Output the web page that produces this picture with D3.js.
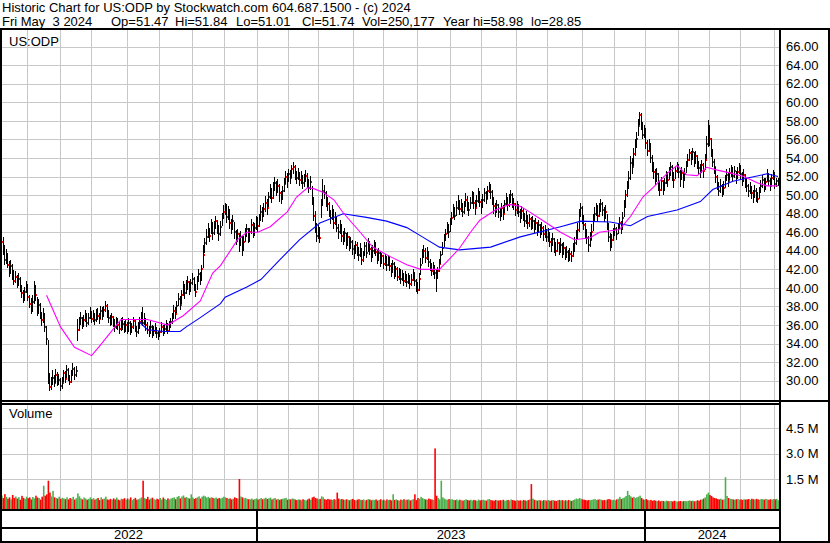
<!DOCTYPE html>
<html><head><meta charset="utf-8">
<script src="https://cdn.jsdelivr.net/npm/d3@7"></script>
<style>
html,body{margin:0;padding:0;background:#fff;}
svg{display:block;font-family:"Liberation Sans",Arial,sans-serif;}
</style></head><body>
<svg id="c" width="830" height="543"></svg>
<script>
const titleText = "Historic Chart for US:ODP by Stockwatch.com 604.687.1500 - (c) 2024";
const infoFields = ["Fri May  3 2024", "Op=51.47", "Hi=51.84", "Lo=51.01", "Cl=51.74", "Vol=250,177", "Year hi=58.98", "lo=28.85"];
const symbolText = "US:ODP";
const volumeText = "Volume";
const firstDay = "2022-05-06", lastDay = "2024-05-03";
const holidays = ["2022-05-30","2022-06-20","2022-07-04","2022-09-05","2022-11-24","2022-12-26",
 "2023-01-02","2023-01-16","2023-02-20","2023-04-07","2023-05-29","2023-06-19","2023-07-04","2023-09-04","2023-11-23","2023-12-25",
 "2024-01-01","2024-01-15","2024-02-19","2024-03-29"];
const priceTicks = [30,32,34,36,38,40,42,44,46,48,50,52,54,56,58,60,62,64,66];
const volumeTicks = [1.5,3.0,4.5];

const closes = [
45.0,44.2,43.0,43.6,42.5,41.8,42.4,41.5,40.8,41.2,
40.5,41.0,40.0,39.5,38.8,39.6,40.2,39.0,38.3,37.8,
38.5,40.0,39.2,37.5,38.2,37.0,36.5,37.2,35.8,34.5,
30.5,29.3,29.6,30.3,29.8,30.6,29.9,30.1,29.4,29.7,
30.8,30.2,31.2,30.5,29.9,30.8,31.3,30.6,31.0,35.5,
36.3,36.8,36.0,36.5,37.0,36.2,36.8,37.4,36.6,37.0,
36.5,37.2,37.0,36.6,37.5,37.0,37.6,38.0,37.2,36.8,
36.4,36.9,36.2,35.8,36.5,36.0,35.6,36.3,36.1,35.7,
36.0,35.5,36.2,35.3,35.8,36.4,35.6,35.2,35.9,36.3,
36.8,36.2,36.5,36.0,35.5,35.2,35.8,35.0,35.4,35.6,
35.1,34.8,35.3,35.8,35.2,35.6,36.0,35.4,35.9,36.3,
36.8,37.5,37.2,38.0,38.8,38.2,39.2,40.0,39.4,40.2,
40.6,39.8,40.5,41.0,40.2,39.6,40.8,41.5,40.9,42.0,
43.5,44.8,45.5,46.2,45.6,46.8,45.9,46.5,47.2,46.4,
45.8,46.6,47.5,48.2,48.8,47.6,48.3,47.0,46.5,47.2,
46.0,45.2,45.8,44.6,45.5,44.2,45.0,45.9,46.3,45.4,
46.0,46.8,45.9,46.5,47.2,46.7,47.5,48.2,47.8,48.5,
49.2,48.6,49.8,50.5,49.7,50.8,51.3,50.6,51.0,50.2,
49.6,50.4,51.2,52.0,51.5,52.3,51.8,52.8,53.0,52.2,
51.9,52.4,51.6,52.0,51.3,51.7,52.1,51.5,50.8,51.4,
49.5,47.8,46.5,45.6,46.2,45.4,49.0,50.5,50.2,49.4,
49.0,48.2,47.5,48.3,47.0,47.6,46.5,46.0,46.8,45.6,
45.2,45.9,44.8,45.5,44.6,45.0,44.2,43.8,44.6,44.0,
43.5,44.2,43.0,43.6,44.5,43.8,44.9,44.2,43.5,44.0,
44.6,43.9,43.2,43.8,42.9,43.4,42.6,43.1,42.5,43.2,
42.4,41.8,42.6,41.5,42.0,41.2,41.8,41.0,41.5,40.8,
41.3,40.6,41.2,40.4,40.9,41.5,40.8,40.2,39.8,41.0,
42.5,43.6,44.0,43.2,43.8,42.8,42.4,41.8,42.2,41.6,
41.2,41.8,42.6,43.5,44.3,45.2,45.8,46.5,46.0,46.9,
47.5,48.3,47.8,48.6,49.2,48.5,49.0,48.2,48.8,49.5,
49.0,48.4,49.2,49.8,49.1,48.6,49.4,50.0,49.3,48.7,
49.5,50.2,49.6,50.4,51.0,50.3,49.5,48.8,48.3,48.9,
48.2,47.8,48.6,48.0,49.0,49.6,48.9,49.5,50.0,49.3,
49.0,48.4,48.9,48.2,47.6,48.3,47.9,47.2,47.8,47.0,
47.4,46.8,47.2,46.5,47.0,46.2,46.8,46.0,46.5,45.8,
46.2,45.5,45.9,45.0,44.6,45.3,44.5,44.0,44.8,44.2,
44.6,43.8,44.3,43.5,43.9,43.2,43.7,43.4,44.2,44.8,
45.5,46.2,47.8,48.6,47.5,46.8,46.0,45.4,44.6,45.2,
46.0,47.2,48.0,48.6,47.8,48.5,49.0,48.4,47.9,48.2,
46.8,45.5,44.6,45.2,45.9,46.3,45.8,46.5,47.0,46.4,
47.5,48.8,50.0,51.0,51.8,53.5,53.0,54.4,55.2,56.0,
57.5,58.6,57.8,56.5,57.0,55.6,54.8,55.5,54.0,53.2,
52.5,51.8,52.3,51.2,50.6,51.5,50.8,51.3,52.0,51.6,
52.4,53.0,52.2,51.6,52.6,53.2,52.5,51.8,52.4,51.6,
52.3,53.1,53.8,54.5,53.9,54.6,53.7,54.2,53.5,52.9,
52.5,53.2,52.6,53.8,55.5,57.2,56.0,54.8,53.6,53.0,
52.0,51.2,50.5,51.0,50.3,50.8,51.6,52.2,51.5,52.4,
52.8,52.1,52.6,51.8,52.5,53.0,52.3,51.7,52.2,51.5,
51.0,50.4,50.9,50.2,49.8,50.5,50.0,49.6,50.3,51.0,
51.6,50.8,51.4,52.2,51.5,51.0,51.8,52.3,51.2,51.5,51.74];

const highs = [
46.6,45.5,44.6,44.2,43.8,42.9,43.0,42.6,41.9,41.8,
41.4,41.6,41.2,40.3,39.8,40.1,40.8,40.4,39.2,38.9,
39.2,40.7,40.3,39.0,38.8,38.4,37.4,37.8,37.3,35.9,
34.4,30.8,30.4,31.2,30.6,31.3,30.9,30.7,30.3,30.4,
31.2,31.0,31.7,31.4,30.6,31.1,31.9,31.5,31.6,36.6,
36.9,37.4,36.9,37.1,37.6,37.3,37.3,37.9,37.5,37.6,
37.3,37.7,37.8,37.3,38.0,37.9,38.1,38.6,38.3,37.6,
37.1,37.3,37.0,36.6,36.9,36.8,36.4,36.8,36.9,36.4,
36.5,36.3,36.8,36.4,36.2,36.9,36.7,35.9,36.3,36.9,
37.4,37.9,37.3,36.8,36.3,35.9,36.4,36.0,35.9,36.2,
35.8,35.4,35.7,36.3,36.0,36.1,36.5,36.2,36.4,36.8,
37.3,38.2,37.9,38.6,39.5,39.1,39.8,40.8,40.4,40.9,
41.3,40.8,41.0,41.6,41.2,40.4,41.3,42.0,41.7,42.5,
44.6,45.4,46.3,47.0,46.5,47.4,47.1,47.2,47.7,47.3,
46.8,47.2,48.1,48.9,49.2,49.0,48.8,48.5,47.4,47.9,
47.1,46.2,46.4,45.9,46.1,45.6,45.6,46.5,46.9,46.5,
46.5,47.4,47.1,47.0,47.8,47.6,48.0,48.9,48.7,49.1,
49.9,49.6,50.3,51.2,50.8,51.4,52.0,51.5,51.7,51.2,
50.5,51.0,51.9,52.6,52.4,52.8,52.7,53.3,53.6,53.2,
52.6,52.9,52.5,52.6,52.2,52.3,52.7,52.4,51.7,52.1,
51.0,49.8,48.3,47.0,46.8,46.6,49.6,51.7,51.1,50.5,
49.8,49.3,48.4,48.9,48.5,48.2,47.6,46.9,47.3,46.9,
46.1,46.5,45.9,46.0,45.6,45.5,45.2,44.6,45.1,44.9,
44.4,44.8,44.3,44.0,45.0,44.9,45.4,45.1,44.4,44.6,
45.2,44.9,44.1,44.3,43.9,43.8,43.6,43.7,43.4,43.6,
43.4,42.7,43.0,42.8,42.4,42.3,42.2,42.0,41.9,41.6,
41.8,41.5,41.6,41.4,41.5,42.0,41.7,41.0,40.6,41.6,
43.2,44.2,44.6,44.3,44.4,44.0,43.1,42.7,42.8,42.5,
42.0,42.3,43.1,44.0,44.9,45.8,46.4,47.1,46.9,47.5,
48.2,49.0,48.7,49.4,50.0,49.5,49.6,49.1,49.4,50.2,
49.9,49.3,49.8,50.5,50.3,49.5,50.0,50.8,50.4,49.6,
50.1,50.8,50.5,51.0,51.4,51.2,50.6,49.8,49.1,49.5,
49.0,48.6,49.2,48.9,49.5,50.2,49.8,50.1,50.6,50.2,
49.7,49.2,49.4,49.0,48.5,48.8,48.6,48.1,48.3,47.9,
48.0,47.6,47.8,47.3,47.5,47.1,47.3,46.9,47.1,46.7,
46.8,46.4,46.5,46.0,45.4,45.9,45.4,44.9,45.3,45.0,
45.4,44.8,45.0,44.4,44.5,44.1,44.3,44.0,44.8,45.5,
46.2,47.0,48.5,49.2,48.8,47.9,47.0,46.3,45.6,46.0,
46.9,48.0,48.7,49.2,48.9,49.1,49.6,49.3,48.7,48.9,
48.0,47.0,45.9,45.8,46.5,46.9,46.6,47.0,47.6,47.2,
48.2,49.5,50.6,51.5,52.6,54.2,54.0,55.1,56.0,56.8,
58.2,58.98,58.9,57.9,57.6,57.2,55.9,56.1,55.6,54.3,
53.6,52.8,52.9,52.4,51.5,52.0,51.6,51.9,52.6,52.5,
53.0,53.6,53.2,52.5,53.0,53.6,53.4,52.7,53.0,52.5,
52.9,53.7,54.4,55.0,54.8,55.1,54.7,54.8,54.3,53.7,
53.4,53.8,53.5,54.4,56.4,58.1,57.6,56.2,55.0,53.9,
53.0,52.2,51.4,51.7,51.2,51.5,52.2,52.8,52.4,52.9,
53.3,53.0,53.1,52.6,53.0,53.5,53.2,52.5,52.8,52.3,
51.8,51.2,51.4,51.0,50.6,51.1,50.8,50.3,50.9,51.6,
52.2,51.8,51.9,52.8,52.4,51.8,52.3,52.7,52.5,51.9,51.84];

const lows = [
44.2,43.6,42.5,42.6,42.1,41.2,41.5,40.9,40.3,40.5,
40.0,40.2,39.6,38.9,38.4,38.6,39.4,38.6,37.8,37.2,
37.4,38.3,38.6,37.0,37.2,36.6,35.9,36.2,35.2,33.8,
29.6,28.85,29.0,29.5,29.3,29.7,29.4,29.5,28.9,29.1,
29.9,29.8,30.3,30.0,29.5,29.8,30.5,30.1,30.4,34.3,
35.4,36.0,35.6,35.8,36.3,35.8,36.0,36.7,36.2,36.3,
36.0,36.3,36.5,36.1,36.6,36.5,36.9,37.4,36.8,36.2,
35.9,36.0,35.8,35.2,35.6,35.5,35.0,35.4,35.5,35.1,
35.3,35.0,35.3,34.9,35.1,35.6,35.2,34.7,35.0,35.6,
36.1,35.9,36.0,35.4,35.0,34.7,35.0,34.6,34.8,35.0,
34.6,34.4,34.7,35.1,34.8,35.0,35.4,35.0,35.2,35.7,
36.1,36.7,36.6,37.3,38.0,37.6,38.3,39.1,38.8,39.3,
39.8,39.2,39.6,40.3,39.7,39.0,39.8,40.6,40.3,40.8,
42.2,43.8,44.6,45.4,44.9,45.8,45.2,45.7,46.3,45.8,
45.1,45.6,46.7,47.4,47.9,47.0,47.3,46.3,45.8,46.2,
45.3,44.6,44.9,43.9,44.5,43.4,44.0,44.9,45.5,44.8,
45.0,45.8,45.4,45.6,46.2,46.0,46.6,47.2,47.1,47.6,
48.2,47.9,48.7,49.6,49.2,49.6,50.5,49.9,50.2,49.3,
49.0,49.5,50.3,51.2,50.8,51.4,51.2,51.9,52.3,51.6,
51.2,51.6,51.0,51.2,50.7,50.9,51.4,50.8,50.2,50.6,
48.9,47.2,45.9,45.0,45.3,44.8,47.5,48.8,49.6,48.7,
48.3,47.6,46.9,47.3,46.4,46.8,46.0,45.3,45.8,44.9,
44.6,45.0,44.2,44.5,44.0,44.2,43.6,43.1,43.7,43.4,
42.9,43.3,42.5,42.8,43.4,43.2,43.9,43.6,42.8,43.2,
43.7,43.4,42.6,42.9,42.3,42.6,42.0,42.4,41.8,42.4,
41.8,41.2,41.6,41.0,41.2,40.7,40.9,40.4,40.7,40.2,
40.5,40.1,40.4,39.9,40.2,40.8,40.2,39.6,39.3,39.7,
41.4,42.6,43.2,42.7,43.0,42.3,41.8,41.3,41.4,41.0,
39.6,41.0,41.7,42.6,43.6,44.4,45.1,45.8,45.4,46.0,
46.8,47.5,47.3,47.8,48.4,47.9,48.2,47.6,48.0,48.7,
48.3,47.7,48.5,49.0,48.5,47.9,48.7,49.2,48.7,48.0,
48.6,49.3,49.0,49.6,50.2,49.6,48.9,48.0,47.6,48.1,
47.5,47.2,47.6,47.3,48.1,48.8,48.3,48.7,49.2,48.6,
48.4,47.8,48.0,47.6,47.0,47.4,47.2,46.6,46.9,46.4,
46.6,46.2,46.4,45.9,46.2,45.6,45.9,45.4,45.7,45.1,
45.4,44.9,45.0,44.4,43.9,44.5,43.8,43.4,43.9,43.6,
43.8,43.2,43.5,43.0,43.2,42.8,42.9,42.8,43.3,43.9,
44.6,45.3,46.0,47.6,46.9,46.2,45.3,44.7,43.9,44.4,
45.2,46.1,47.1,47.8,47.1,47.6,48.2,47.7,47.1,47.4,
46.2,44.9,44.0,44.3,45.1,45.6,45.2,45.8,46.3,45.8,
46.2,47.6,48.6,49.8,50.7,51.6,52.3,53.1,54.2,55.1,
56.4,57.6,57.0,56.0,56.2,55.0,54.2,54.6,53.5,52.5,
51.7,51.1,51.4,50.5,49.9,50.5,50.0,50.5,51.2,50.9,
51.6,52.1,51.5,50.8,51.7,52.4,51.8,50.9,51.6,50.8,
51.5,52.4,53.0,53.7,53.2,53.8,53.0,53.4,52.8,52.2,
51.9,52.4,51.9,52.7,53.9,55.2,55.3,54.1,53.0,52.3,
51.3,50.6,49.9,50.2,49.8,50.0,50.8,51.5,50.9,51.6,
52.0,51.5,51.9,51.2,51.7,52.3,51.6,51.0,51.4,50.8,
50.3,49.8,50.1,49.6,49.2,49.7,49.3,49.1,49.6,50.2,
50.8,50.3,50.6,51.4,51.0,50.4,51.1,51.6,50.7,50.9,51.01];

// daily volume, thousands of shares
const volumes = [
520,380,610,450,340,420,300,560,390,470,
350,430,280,510,390,330,460,370,420,300,
440,360,520,410,380,290,460,1100,520,600,
1400,700,480,800,420,380,350,460,330,390,
360,310,420,300,380,340,450,290,370,650,
480,360,300,410,350,280,330,420,310,370,
290,340,380,260,420,310,350,460,300,280,
330,270,360,300,410,290,250,340,310,370,
280,350,300,420,260,330,390,280,310,360,
420,1400,380,320,450,290,350,400,310,280,
340,300,380,290,410,330,270,360,300,350,
390,420,310,450,500,360,470,530,400,440,
380,350,600,410,330,370,420,480,350,460,
520,480,410,450,370,430,390,360,410,340,
380,350,400,460,420,380,330,360,300,340,
420,380,350,1500,470,420,360,390,330,310,
300,350,280,320,360,290,330,380,310,350,
400,320,360,410,300,350,380,290,330,270,
310,340,360,390,280,320,300,350,340,290,
260,300,280,250,310,270,240,300,350,280,
420,460,380,350,300,330,480,420,310,280,
330,300,290,260,310,280,700,350,300,320,
290,260,310,280,250,300,330,270,240,290,
310,280,260,300,240,270,320,290,250,280,
260,300,230,270,310,250,280,220,300,260,
280,240,600,270,300,250,230,290,260,310,
250,280,300,240,270,320,600,260,380,330,
450,380,320,300,280,350,310,290,270,3300,
520,380,300,1400,420,350,300,280,320,290,
310,270,260,300,240,280,250,230,270,300,
260,240,280,230,270,250,220,290,240,260,
280,250,230,300,320,260,240,220,270,250,
230,260,240,280,220,250,270,230,300,260,
240,220,260,230,250,210,270,240,220,260,
300,1200,350,280,250,230,270,240,220,260,
250,230,270,220,240,260,230,210,250,270,
240,260,220,250,230,270,240,210,260,300,
350,320,380,340,300,280,260,240,270,250,
280,300,320,260,290,310,280,250,270,240,
300,320,290,260,280,250,300,340,450,320,
380,420,500,800,560,480,400,450,380,420,
460,520,380,300,280,320,260,240,270,220,
250,230,200,240,190,220,210,180,230,200,
190,210,180,220,200,170,190,210,180,200,
210,190,220,240,200,230,190,210,250,220,
280,300,350,420,600,700,560,500,420,380,
360,320,300,340,280,300,1600,500,380,340,
320,300,280,310,330,290,300,270,310,290,
300,320,280,340,310,290,330,300,280,320,
310,290,330,300,280,310,290,320,300,330,250];

// moving averages: [trading-day index, value]
const maShort = [[29,39.2],[38,35.8],[47,33.6],[58,32.7],[63,33.7],[74,36.0],[77,36.6],[94,36.6],[107,36.0],[117,37.0],
 [128,38.6],[136,41.6],[141,42.4],[152,45.2],[158,46.0],[165,46.0],[173,46.6],[184,48.2],[190,49.8],[197,50.8],
 [201,50.7],[207,50.3],[214,49.5],[220,48.1],[231,46.0],[239,44.4],[250,43.4],[261,42.5],[270,42.0],[282,42.0],
 [289,43.2],[295,44.3],[302,46.0],[308,47.3],[318,48.4],[327,49.0],[334,48.8],[340,48.2],[350,47.1],[360,46.0],
 [369,45.2],[379,45.4],[385,46.0],[398,46.3],[405,47.7],[413,49.8],[420,50.9],[429,52.4],[435,53.2],[441,52.2],
 [448,52.1],[454,53.0],[461,52.7],[469,52.4],[478,52.0],[487,51.3],[493,51.0],[500,51.0]];
const maLong = [[89,36.3],[94,35.5],[105,35.3],[115,35.3],[119,35.8],[128,36.8],[141,38.3],[144,39.0],[158,40.1],
 [167,40.9],[179,43.0],[192,45.2],[205,47.0],[220,48.0],[235,47.6],[248,47.2],[261,46.5],[271,45.5],[282,44.4],
 [295,44.1],[315,44.4],[334,45.5],[360,46.6],[373,47.2],[392,47.1],[405,46.7],[416,47.7],[435,48.4],[450,49.3],
 [458,50.6],[471,51.5],[482,51.9],[493,52.3],[500,52.0]];

// ---------- layout ----------
const W = 830, H = 543;
const plotL = 2, plotR = 779;
const priceTop = 30, priceBot = 400;
const volTop = 404.5, volBot = 509;
const infoX = [2, 111, 175, 236, 302, 362, 443, 531];
const svg = d3.select("#c");
const nb = s => s.replace(/ /g, "\u00A0");

const parse = d3.utcParse("%Y-%m-%d"), fmt = d3.utcFormat("%Y-%m-%d");
const hol = new Set(holidays);
const days = [];
for (let d = parse(firstDay); d <= parse(lastDay); d = d3.utcDay.offset(d, 1)) {
  const wd = d.getUTCDay();
  if (wd === 0 || wd === 6 || hol.has(fmt(d))) continue;
  days.push(d);
}
const N = Math.min(days.length, closes.length);
const x = d3.scaleLinear().domain([0, N - 1]).range([1.5, 778]);
const step = x(1) - x(0);
const yP = d3.scaleLinear().domain([30, 66]).range([380.7, 46.7]);
const yV = d3.scaleLinear().domain([0, 6]).range([504.5, 402.5]);

const monthStarts = [], yearStarts = [];
for (let i = 1; i < N; i++) {
  if (days[i].getUTCMonth() !== days[i - 1].getUTCMonth()) monthStarts.push(i);
  if (days[i].getUTCFullYear() !== days[i - 1].getUTCFullYear()) yearStarts.push(i);
}
const gx = i => Math.round(x(i) - step / 2) + 0.5;

svg.append("rect").attr("width", W).attr("height", H).attr("fill", "#fff");

const defs = svg.append("defs");
defs.append("clipPath").attr("id", "cp").append("rect").attr("x", plotL).attr("y", priceTop).attr("width", plotR - plotL).attr("height", priceBot - priceTop);
defs.append("clipPath").attr("id", "cv").append("rect").attr("x", plotL).attr("y", volTop).attr("width", plotR - plotL).attr("height", volBot - volTop);

// grids
const grid = svg.append("g").attr("stroke", "#c8c8c8").attr("stroke-width", 1).attr("shape-rendering", "crispEdges");
grid.selectAll(".hp").data(priceTicks).join("line")
  .attr("x1", plotL).attr("x2", plotR).attr("y1", d => Math.round(yP(d)) + 0.5).attr("y2", d => Math.round(yP(d)) + 0.5);
grid.selectAll(".hv").data(volumeTicks).join("line").attr("class", "hv")
  .attr("x1", plotL).attr("x2", plotR).attr("y1", d => Math.round(yV(d)) + 0.5).attr("y2", d => Math.round(yV(d)) + 0.5);
grid.selectAll(".vp").data(monthStarts).join("line").attr("class", "vp")
  .attr("x1", gx).attr("x2", gx).attr("y1", priceTop).attr("y2", priceBot);
grid.selectAll(".vv").data(monthStarts).join("line").attr("class", "vv")
  .attr("x1", gx).attr("x2", gx).attr("y1", volTop).attr("y2", volBot);

// labels
svg.append("text").attr("x", 2).attr("y", 12).attr("font-size", 13).text(titleText);
svg.append("g").attr("font-size", 13).selectAll("text").data(infoFields).join("text")
  .attr("x", (d, k) => infoX[k]).attr("y", 26).text(d => nb(d));
svg.append("text").attr("x", 9).attr("y", 46).attr("font-size", 13).text(symbolText);
svg.append("text").attr("x", 9).attr("y", 418).attr("font-size", 13).text(volumeText);

// price bars: close ticks first, then the high-low bars over them
const idx = d3.range(N);
const pg = svg.append("g").attr("clip-path", "url(#cp)").attr("shape-rendering", "crispEdges");
pg.append("g").selectAll("rect").data(idx).join("rect")
  .attr("x", i => Math.floor(x(i))).attr("y", i => Math.round(yP(closes[i])) - 1)
  .attr("width", 2).attr("height", 2).attr("fill", "#ff0000");
pg.append("g").selectAll("rect").data(idx).join("rect")
  .attr("x", i => Math.floor(x(i))).attr("y", i => Math.round(yP(highs[i])))
  .attr("width", 1).attr("height", i => Math.max(1, Math.round(yP(lows[i])) - Math.round(yP(highs[i]))))
  .attr("fill", "#000");

// moving averages
const line = d3.line().x(d => x(d[0])).y(d => yP(d[1]));
const mg = svg.append("g").attr("clip-path", "url(#cp)").attr("fill", "none").attr("stroke-width", 1.1);
mg.append("path").datum(maLong).attr("d", line).attr("stroke", "#0000ff");
mg.append("path").datum(maShort).attr("d", line).attr("stroke", "#ff00ff");

// volume bars (drawn up from the panel floor)
const vg = svg.append("g").attr("clip-path", "url(#cv)");
vg.selectAll("rect").data(idx).join("rect")
  .attr("x", i => x(i) - 0.5).attr("width", 1.6)
  .attr("y", i => yV(volumes[i] / 1000)).attr("height", i => volBot - yV(volumes[i] / 1000))
  .attr("fill", i => (i > 0 && closes[i] < closes[i - 1]) ? "#ff0000" : "#4cb04c");

// frame
const fr = svg.append("g").attr("fill", "#000").attr("shape-rendering", "crispEdges");
fr.append("rect").attr("x", 0).attr("y", 28).attr("width", W).attr("height", 2);
fr.append("rect").attr("x", 0).attr("y", 28).attr("width", 2).attr("height", H - 28);
fr.append("rect").attr("x", plotR).attr("y", 28).attr("width", 2).attr("height", H - 28);
fr.append("rect").attr("x", W - 2).attr("y", 28).attr("width", 2).attr("height", H - 28);
fr.append("rect").attr("x", 0).attr("y", priceBot).attr("width", W).attr("height", 2);
fr.append("rect").attr("x", 0).attr("y", 403).attr("width", plotR).attr("height", 1.5);
fr.append("rect").attr("x", 0).attr("y", volBot).attr("width", plotR + 2).attr("height", 2);
fr.append("rect").attr("x", 0).attr("y", 527).attr("width", plotR + 2).attr("height", 2);
fr.append("rect").attr("x", 0).attr("y", H - 2).attr("width", W).attr("height", 2);
fr.selectAll(".ys").data(yearStarts).join("rect").attr("class", "ys")
  .attr("x", i => Math.round(x(i) - step / 2) - 1).attr("y", volBot).attr("width", 2).attr("height", H - volBot);

// axis labels
svg.append("g").attr("font-size", 13).selectAll("text").data(priceTicks).join("text")
  .attr("x", 786).attr("y", d => yP(d)).attr("dy", "0.36em").text(d => d.toFixed(2));
svg.append("g").attr("font-size", 13).selectAll("text").data(volumeTicks).join("text")
  .attr("x", 786).attr("y", d => yV(d)).attr("dy", "0.36em").text(d => d.toFixed(1) + "\u00A0M");

// year labels
const yb = [0, ...yearStarts.map(i => x(i) - step / 2), plotR];
svg.append("g").attr("font-size", 13).attr("text-anchor", "middle").selectAll("text")
  .data(d3.range(yb.length - 1)).join("text")
  .attr("x", k => (yb[k] + yb[k + 1]) / 2).attr("y", 539)
  .text(k => days[k === 0 ? 0 : yearStarts[k - 1]].getUTCFullYear());
</script>
</body></html>
